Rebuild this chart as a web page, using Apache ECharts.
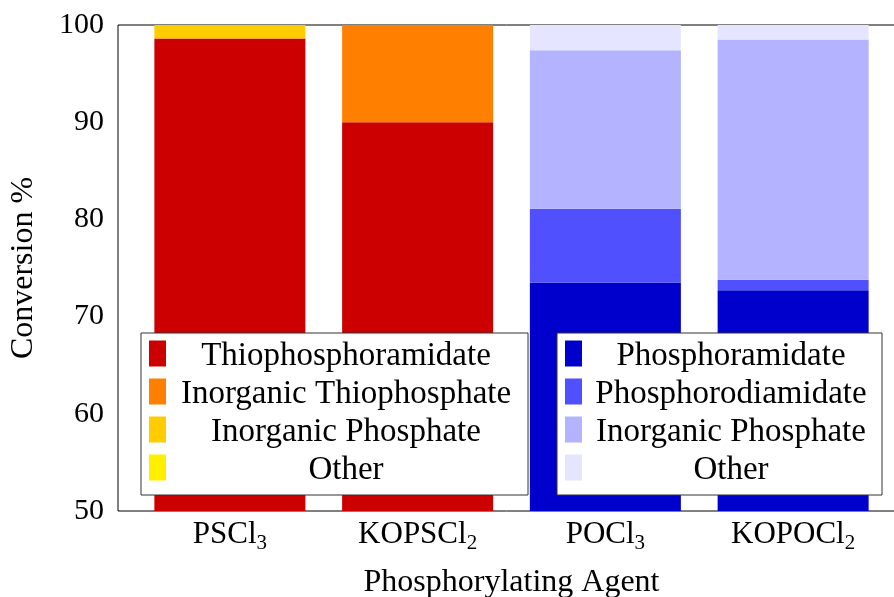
<!DOCTYPE html>
<html>
<head>
<meta charset="utf-8">
<script src="https://cdn.jsdelivr.net/npm/echarts@6/dist/echarts.min.js"></script>
<style>html,body{margin:0;padding:0;background:#fff}#c{width:894px;height:597px}</style>
</head>
<body>
<div id="c"></div>
<script>
const categories = ['PSCl3', 'KOPSCl2', 'POCl3', 'KOPOCl2'];
const thiophosphoramidate   = [98.6, 90, 0, 0];
const inorganicThiophosphate = [0, 10, 0, 0];
const inorganicPhosphateS   = [1.4, 0, 0, 0];
const otherS                = [0, 0, 0, 0];
const phosphoramidate       = [0, 0, 73.5, 72.7];
const phosphorodiamidate    = [0, 0, 7.6, 1.1];
const inorganicPhosphateO   = [0, 0, 16.3, 24.7];
const otherO                = [0, 0, 2.6, 1.5];
const yMin = 50, yMax = 100, yStep = 10;

const FONT = 'Liberation Serif';
const seriesDefs = [
  ['S:Thiophosphoramidate', thiophosphoramidate, '#CC0000'],
  ['S:Inorganic Thiophosphate', inorganicThiophosphate, '#FF8000'],
  ['S:Inorganic Phosphate', inorganicPhosphateS, '#FFCC00'],
  ['S:Other', otherS, '#FFF000'],
  ['O:Phosphoramidate', phosphoramidate, '#0000CC'],
  ['O:Phosphorodiamidate', phosphorodiamidate, '#5050FF'],
  ['O:Inorganic Phosphate', inorganicPhosphateO, '#B3B3FF'],
  ['O:Other', otherO, '#E5E5FF']
];

function legendCfg(names, left, textW) {
  return {
    orient: 'vertical', left: left, top: 333,
    data: names,
    selectedMode: false,
    icon: 'rect', itemWidth: 17, itemHeight: 26, itemGap: -1, itemTextGap: 4,
    padding: [1, 7, 8, 8],
    backgroundColor: '#fff', borderColor: '#333', borderWidth: 1,
    formatter: n => '{t|' + n.slice(2) + '}',
    textStyle: {
      rich: { t: { width: textW, align: 'center', fontSize: 33, lineHeight: 31, padding: [6, 0, 0, 0], fontFamily: FONT, color: '#000' } }
    }
  };
}

const chart = echarts.init(document.getElementById('c'), null, {renderer: 'canvas'});
chart.setOption({
  animation: false,
  grid: [
    {left: 118, right: -11, top: 25, bottom: 86, outerBoundsMode: 'none', containLabel: false, show: true, borderColor: '#000', borderWidth: 1, backgroundColor: 'transparent'},
    {left: 136, right: 7, top: 25, bottom: 86, outerBoundsMode: 'none', containLabel: false}
  ],
  legend: [
    legendCfg(seriesDefs.slice(0, 4).map(d => d[0]), 141, 350),
    legendCfg(seriesDefs.slice(4).map(d => d[0]), 557, 288)
  ],
  xAxis: [
    {gridIndex: 0, type: 'value', min: 0, max: 1, axisLine: {show: false}, axisTick: {show: false}, axisLabel: {show: false}, splitLine: {show: false},
     name: 'Phosphorylating Agent', nameLocation: 'middle', nameGap: 56,
     nameTextStyle: {fontFamily: FONT, fontSize: 32, color: '#000'}},
    {gridIndex: 1, type: 'category', data: categories, axisLine: {show: false}, axisTick: {show: false},
     axisLabel: {margin: 5, color: '#000',
       formatter: v => { const m = v.match(/^(.*?)(\d)$/); return '{b|' + m[1] + '}{s|' + m[2] + '}'; },
       rich: {
         b: {fontFamily: FONT, fontSize: 31, lineHeight: 38, color: '#000'},
         s: {fontFamily: FONT, fontSize: 21, lineHeight: 38, verticalAlign: 'bottom', color: '#000'}
       }}}
  ],
  yAxis: [
    {gridIndex: 0, type: 'value', min: yMin, max: yMax, interval: yStep,
     axisLine: {show: false}, axisTick: {show: false}, splitLine: {show: false},
     axisLabel: {fontFamily: FONT, fontSize: 30, color: '#000', margin: 14},
     name: 'Conversion %', nameLocation: 'middle', nameRotate: 90, nameGap: 78,
     nameTextStyle: {fontFamily: FONT, fontSize: 32, color: '#000'}},
    {gridIndex: 1, type: 'value', min: yMin, max: yMax, show: false}
  ],
  series: seriesDefs.map(d => ({
    name: d[0], type: 'bar', xAxisIndex: 1, yAxisIndex: 1, stack: 'all',
    barWidth: 151, data: d[1], itemStyle: {color: d[2]}
  }))
});
</script>
</body>
</html>
